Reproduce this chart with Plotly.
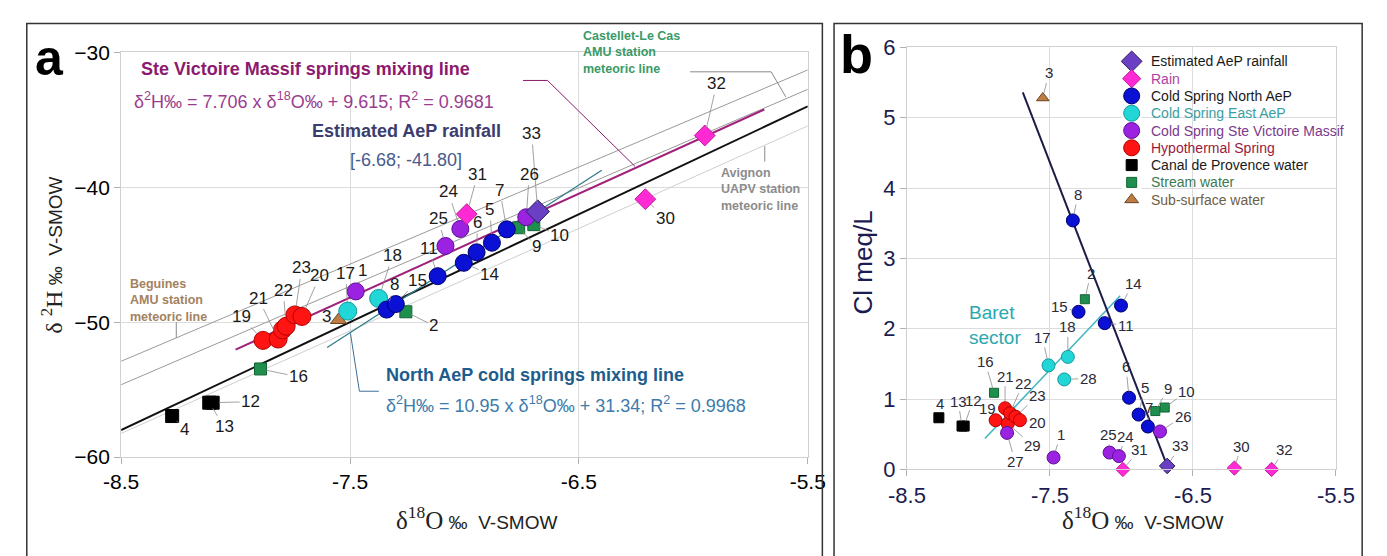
import plotly.graph_objects as go

# ---------------- DATA ----------------
# sample groups: id, d18O (permil), d2H (permil), Cl (meq/L)
est_ids = ["33"]
est_d18O = [-6.68]
est_d2H = [-41.80]
est_cl = [0.05]

rain_ids = ["31", "30", "32"]
rain_d18O = [-6.99, -6.21, -5.95]
rain_d2H = [-41.99, -40.88, -36.16]
rain_cl = [0.0, 0.02, 0.0]

north_ids = ["8", "15", "11", "14", "6", "5", "7"]
north_d18O = [-7.34, -7.30, -7.117, -7.003, -6.947, -6.88, -6.815]
north_d2H = [-49.07, -48.66, -46.59, -45.60, -44.82, -44.11, -43.12]
north_cl = [3.54, 2.24, 2.08, 2.33, 1.02, 0.78, 0.61]

east_ids = ["17", "18", "28"]
east_d18O = [-7.51, -7.375, -7.40]
east_d2H = [-49.18, -48.24, None]
east_cl = [1.48, 1.60, 1.28]

stev_ids = ["1", "25", "24", "26", "27"]
stev_d18O = [-7.475, -7.083, -7.018, -6.73, -7.80]
stev_d2H = [-47.72, -44.35, -43.09, -42.22, None]
stev_cl = [0.17, 0.24, 0.19, 0.54, 0.52]

hypo_ids = ["19", "21", "29", "22", "23", "20"]
hypo_d18O = [-7.88, -7.814, -7.795, -7.779, -7.741, -7.71]
hypo_d2H = [-51.35, -51.25, -50.57, -50.30, -49.46, -49.58]
hypo_cl = [0.70, 0.87, 0.65, 0.80, 0.75, 0.70]

canal_ids = ["4", "13", "12"]
canal_d18O = [-8.277, -8.115, -8.10]
canal_d2H = [-56.96, -55.97, -55.97]
canal_cl = [0.735, 0.617, 0.617]

stream_ids = ["2", "9", "10", "16"]
stream_d18O = [-7.256, -6.763, -6.697, -7.891]
stream_d2H = [-49.23, -43.00, -42.77, -53.47]
stream_cl = [2.42, 0.83, 0.88, 1.09]

sub_ids = ["3"]
sub_d18O = [-7.55]
sub_d2H = [-49.84]
sub_cl = [5.28]

# lines in panel a: slope, intercept, x-extent
gmwl = (8.0, 10.0, [-8.5, -5.5])
beguines = (7.2, 8.3, [-8.5, -5.5])
castellet = (7.3, 7.41, [-8.5, -5.5])
avignon = (7.6, 6.35, [-8.5, -5.5])
stev_mix = (7.706, 9.615, [-8.0, -5.69])
north_mix = (10.95, 31.34, [-7.60, -6.40])

# lines in panel b
cl_line_x = [-7.69, -6.68]
cl_line_y = [5.36, 0.05]
baret_x = [-7.955, -7.009]
baret_y = [0.44, 2.47]

x_ticks = [-8.5, -7.5, -6.5, -5.5]
ya_ticks = [-60, -50, -40, -30]
yb_ticks = [0, 1, 2, 3, 4, 5, 6]

# ---------------- STYLE ----------------
W, H = 1387, 556
FONT = "Liberation Sans, Arial, sans-serif"
SERIF = "Liberation Serif, Times New Roman, serif"


def px(x):
    return x / W


def py(y):
    return 1 - y / H


groups = [
    # name, legend text color, ids, d18O, d2H, cl, symbol, fill, edge, size_a, size_b, size_legend
    ("Estimated AeP rainfall", "#1a1a1a", est_ids, est_d18O, est_d2H, est_cl,
     "diamond", "#6a3fc4", "#2b1f5c", 18, 12, 16),
    ("Rain", "#b13fa3", rain_ids, rain_d18O, rain_d2H, rain_cl,
     "diamond", "#ff2ad4", "#c01aa0", 16, 11, 14),
    ("Cold Spring North AeP", "#1a1a1a", north_ids, north_d18O, north_d2H, north_cl,
     "circle", "#0a10d4", "#00006e", 17, 13, 16),
    ("Cold Spring East AeP", "#3a9ea2", east_ids, east_d18O, east_d2H, east_cl,
     "circle", "#22d6d8", "#129a9c", 18, 13, 16),
    ("Cold Spring Ste Victoire Massif", "#7b3a8d", stev_ids, stev_d18O, stev_d2H, stev_cl,
     "circle", "#9a22e0", "#5e1096", 17, 13, 16),
    ("Hypothermal Spring", "#9a1a3c", hypo_ids, hypo_d18O, hypo_d2H, hypo_cl,
     "circle", "#ff1414", "#b40000", 18, 13, 16),
    ("Canal de Provence water", "#1a1a1a", canal_ids, canal_d18O, canal_d2H, canal_cl,
     "square", "#000000", "#000000", 13, 10, 11),
    ("Stream water", "#3a7a52", stream_ids, stream_d18O, stream_d2H, stream_cl,
     "square", "#1f8f4e", "#136534", 12, 9, 10),
    ("Sub-surface water", "#6e5e44", sub_ids, sub_d18O, sub_d2H, sub_cl,
     "triangle-up", "#be7c42", "#6a4524", 14, 11, 12),
]

fig = go.Figure()


def line_trace(params, color, width, xa, ya):
    m, b, xr = params
    return go.Scatter(x=xr, y=[m * v + b for v in xr], mode="lines",
                      line=dict(color=color, width=width), showlegend=False,
                      hoverinfo="skip", xaxis=xa, yaxis=ya)


# panel a lines
fig.add_trace(line_trace(beguines, "#9a9a9a", 1, "x", "y"))
fig.add_trace(line_trace(castellet, "#9a9a9a", 1, "x", "y"))
fig.add_trace(line_trace(avignon, "#cfcfcf", 1, "x", "y"))
fig.add_trace(line_trace(gmwl, "#111111", 2, "x", "y"))
fig.add_trace(line_trace(north_mix, "#2f7f8c", 1.3, "x", "y"))
fig.add_trace(line_trace(stev_mix, "#a0207c", 2, "x", "y"))

# panel b lines
fig.add_trace(go.Scatter(x=baret_x, y=baret_y, mode="lines",
                         line=dict(color="#45b6c2", width=1.6), showlegend=False,
                         hoverinfo="skip", xaxis="x2", yaxis="y2"))
fig.add_trace(go.Scatter(x=cl_line_x, y=cl_line_y, mode="lines",
                         line=dict(color="#1c1c48", width=2), showlegend=False,
                         hoverinfo="skip", xaxis="x2", yaxis="y2"))

# markers
draw_order = [6, 7, 8, 5, 3, 2, 4, 1, 0]
for gi in draw_order:
    name, tcol, ids, xo, yh, cl, sym, fill, edge, sa, sb, sl = groups[gi]
    fig.add_trace(go.Scatter(
        x=xo, y=yh, mode="markers", xaxis="x", yaxis="y",
        marker=dict(symbol=sym, color=fill, size=sa, opacity=1,
                    line=dict(color=edge, width=1)),
        showlegend=False, cliponaxis=False, hoverinfo="skip"))
    fig.add_trace(go.Scatter(
        x=xo, y=cl, mode="markers", xaxis="x2", yaxis="y2",
        marker=dict(symbol=sym, color=fill, size=sb, opacity=1,
                    line=dict(color=edge, width=1)),
        showlegend=False, cliponaxis=False, hoverinfo="skip"))

# custom legend (symbols on a hidden helper axis, one row per group)
leg_rows = list(range(len(groups)))
fig.add_trace(go.Scatter(
    x=[0.5] * len(groups), y=leg_rows, mode="markers", xaxis="x3", yaxis="y3",
    marker=dict(symbol=[g[6] for g in groups], color=[g[7] for g in groups],
                size=[g[11] for g in groups], opacity=1,
                line=dict(color=[g[8] for g in groups], width=1)),
    showlegend=False, cliponaxis=False, hoverinfo="skip"))

# ---------------- LABELS ----------------
a_off = {"33": (-6, -78), "32": (12, -52), "30": (20, 19), "31": (11, -40),
         "24": (-12, -37), "25": (-7, -27), "6": (1, -30), "5": (-2, -33),
         "7": (-7, -39), "26": (3, -43), "9": (18, 19), "10": (26, 11),
         "14": (26, 12), "11": (-9, -28), "15": (22, -24), "8": (8, -25),
         "2": (28, 14), "18": (14, -43), "1": (7, -21), "17": (-2, -38),
         "3": (-12, -4), "20": (18, -41), "23": (7, -47), "22": (-3, -36),
         "21": (-20, -41), "19": (-22, -24), "16": (38, 8), "12": (38, -1),
         "13": (15, 24), "4": (12, 13)}
b_off = {"4": (1, -14), "13": (-4, -25), "12": (9, -26), "16": (-9, -31),
         "19": (-8, -12), "21": (0, -32), "22": (13, -30), "23": (22, -21),
         "20": (18, 2), "29": (25, 22), "27": (8, 29), "1": (7, -23),
         "17": (-6, -28), "18": (0, -30), "28": (24, -1), "15": (-19, -5),
         "11": (21, 2), "14": (12, -22), "2": (6, -26), "8": (5, -26),
         "3": (6, -25), "6": (-3, -31), "5": (6, -27), "7": (1, -19),
         "9": (13, -23), "10": (22, -16), "26": (23, -15), "25": (-1, -18),
         "24": (7, -20), "31": (17, -20), "33": (13, -20), "30": (7, -22),
         "32": (13, -20)}

annotations = []


def add_labels(ids, xs, ys, offs, xref, yref, size, color, standoff):
    for i, x, y in zip(ids, xs, ys):
        if y is None or i not in offs:
            continue
        ax, ay = offs[i]
        d = (ax * ax + ay * ay) ** 0.5
        common = dict(x=x, y=y, xref=xref, yref=yref, text=i,
                      font=dict(family=FONT, size=size, color=color))
        if d > 17:
            annotations.append(dict(**common, showarrow=True, arrowhead=0,
                                    arrowwidth=0.8, arrowcolor="#8a8a8a",
                                    ax=ax, ay=ay, standoff=standoff))
        else:
            annotations.append(dict(**common, showarrow=False, xshift=ax, yshift=-ay))


for g in groups:
    name, tcol, ids, xo, yh, cl, sym, fill, edge, sa, sb, sl = g
    add_labels(ids, xo, yh, a_off, "x", "y", 17, "#1a1a1a", sa / 2)
    add_labels(ids, xo, cl, b_off, "x2", "y2", 15, "#2a2a3a", sb / 2)

# legend texts (to the right of the helper axis)
for row, g in zip(leg_rows, groups):
    annotations.append(dict(x=1.0, y=row, xref="x3 domain", yref="y3", xshift=8,
                            text=g[0], showarrow=False, xanchor="left", yanchor="middle",
                            font=dict(family=FONT, size=14, color=g[1])))


def text(xp, yp, t, size, color, bold=False, xanchor="left", yanchor="middle",
         family=FONT, textangle=0, align="left"):
    if bold:
        t = f"<b>{t}</b>"
    annotations.append(dict(x=px(xp), y=py(yp), xref="paper", yref="paper", text=t,
                            showarrow=False, xanchor=xanchor, yanchor=yanchor,
                            align=align, textangle=textangle,
                            font=dict(family=family, size=size, color=color)))


# panel letters
text(14, 48, "a", 50, "#000000", bold=True)
text(842, 44, "b", 54, "#000000", bold=True)

# panel a texts
text(123, 60, "Ste Victoire Massif springs mixing line", 18, "#8c1a6e", bold=True)
text(116, 93, "δ<sup>2</sup>H‰ = 7.706 x δ<sup>18</sup>O‰ + 9.615; R<sup>2</sup> = 0.9681",
     18, "#9b3d8e")
text(398, 125, "Estimated AeP rainfall", 18, "#3b3d6e", bold=True, xanchor="center")
text(398, 155, "[-6.68; -41.80]", 18, "#4a5a8c", xanchor="center")
text(375, 380, "North AeP cold springs mixing line", 18, "#1d5d8d", bold=True)
text(375, 411, "δ<sup>2</sup>H‰ = 10.95 x δ<sup>18</sup>O‰ + 31.34; R<sup>2</sup> = 0.9968",
     18, "#3c7bab")
text(578, 42, "Castellet-Le Cas<br>AMU station<br>meteoric line", 12.5, "#3a9a68", bold=True)
text(720, 186, "Avignon<br>UAPV station<br>meteoric line", 12.5, "#8c8c8c", bold=True)
text(112, 302, "Beguines<br>AMU station<br>meteoric line", 12.5, "#a4825f", bold=True)

# axis titles
text(33, 255, f'<span style="font-family:{SERIF};font-size:24px">δ <sup>2</sup>H</span> ‰  V-SMOW',
     19, "#222222", xanchor="center", textangle=-90)
text(470, 530, f'<span style="font-family:{SERIF};font-size:25px">δ<sup>18</sup>O</span> ‰  V-SMOW',
     19, "#222222", xanchor="center")
text(1155, 530, f'<span style="font-family:{SERIF};font-size:25px">δ<sup>18</sup>O</span> ‰  V-SMOW',
     19, "#222222", xanchor="center")
text(868, 262, "Cl meq/L", 26, "#1c1c50", xanchor="center", textangle=-90)

# panel b Baret text
text(975, 328, "Baret<br>sector", 19, "#2aa8b0")

# ---------------- SHAPES (frames and leaders) ----------------
shapes = [
    dict(type="rect", xref="paper", yref="paper", x0=px(8), x1=px(826), y0=-0.05, y1=py(12),
         line=dict(color="#333333", width=1.5)),
    dict(type="rect", xref="paper", yref="paper", x0=px(838), x1=px(1381), y0=-0.05, y1=py(12),
         line=dict(color="#333333", width=1.5)),
    dict(type="path", xref="x", yref="y", path="M -6.744,-32.08 L -6.637,-32.08 L -6.255,-38.45",
         line=dict(color="#8c1a6e", width=1)),
    dict(type="path", xref="x", yref="y", path="M -7.374,-55.12 L -7.459,-55.12 L -7.498,-50.83",
         line=dict(color="#3c6f9a", width=1)),
    dict(type="path", xref="x", yref="y", path="M -8.259,-50.0 L -8.259,-51.17",
         line=dict(color="#8a8a8a", width=1)),
    dict(type="path", xref="x", yref="y", path="M -5.688,-38.1 L -5.688,-36.95",
         line=dict(color="#8a8a8a", width=1)),
    dict(type="path", xref="x", yref="y", path="M -6.014,-31.44 L -5.66,-31.44 L -5.596,-33.3",
         line=dict(color="#8a8a8a", width=1)),
]

axis_common = dict(showgrid=True, gridcolor="#dcdcdc", gridwidth=1, zeroline=False,
                   showline=True, linecolor="#d0d0d0", mirror=True,
                   ticks="outside", ticklen=6, tickcolor="#b0b0b0")

n_rows = len(groups)
row_h = 18.1
leg_top = 51.7 - row_h / 2
leg_bot = leg_top + row_h * n_rows

fig.update_layout(
    width=W, height=H, margin=dict(l=0, r=0, t=0, b=0),
    paper_bgcolor="white", plot_bgcolor="white",
    font=dict(family=FONT),
    showlegend=False,
    xaxis=dict(domain=[px(105), px(811)], range=[-8.5, -5.5], tickvals=x_ticks,
               ticktext=[f"{v:.1f}" for v in x_ticks], anchor="y",
               tickfont=dict(size=21, color="#000000"), **axis_common),
    yaxis=dict(domain=[py(466), py(42.3)], range=[-60, -30], tickvals=ya_ticks,
               anchor="x", tickfont=dict(size=21, color="#000000"), **axis_common),
    xaxis2=dict(domain=[px(913), px(1354)], range=[-8.5, -5.5], tickvals=x_ticks,
                ticktext=[f"{v:.1f}" for v in x_ticks], anchor="y2",
                tickfont=dict(size=22, color="#1c1c50"), **axis_common),
    yaxis2=dict(domain=[py(479), py(37)], range=[0, 6], tickvals=yb_ticks,
                anchor="x2", tickfont=dict(size=22, color="#1c1c50"), **axis_common),
    xaxis3=dict(domain=[px(1134), px(1154)], range=[0, 1], visible=False,
                fixedrange=True, anchor="y3"),
    yaxis3=dict(domain=[py(leg_bot), py(leg_top)], range=[n_rows - 0.5, -0.5],
                visible=False, fixedrange=True, anchor="x3"),
    annotations=annotations,
    shapes=shapes,
)

fig.write_html("out.html", post_script="document.body.style.margin='0';")
